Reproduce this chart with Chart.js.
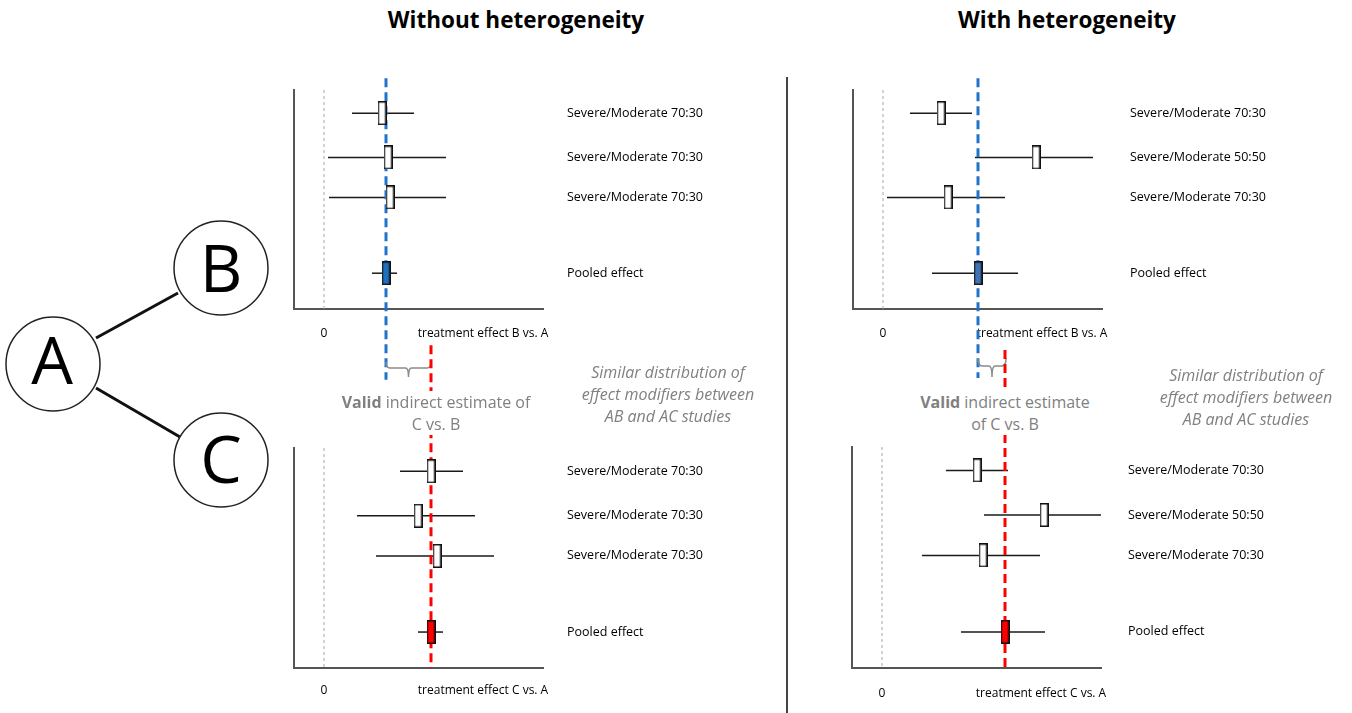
<!DOCTYPE html>
<html>
<head>
<meta charset="utf-8">
<script src="https://cdn.jsdelivr.net/npm/chart.js@4.4.1/dist/chart.umd.min.js"></script>
<style>
	body { margin: 0; background: #fff; font-family: 'Open Sans', sans-serif; }
	#page { position: relative; width: 1352px; height: 713px; overflow: hidden; }
	.panel { position: absolute; }
	.title { position: absolute; top: 4px; font-weight: bold; font-size: 22.5px; line-height: 32px; transform: translateX(-50%); white-space: nowrap; color: #000; }
	.note { position: absolute; color: #808080; font-size: 16px; line-height: 22px; text-align: center; white-space: nowrap; }
	.valid { background: #fff; z-index: 5; transform: translateX(-50%); }
	.similar { font-style: italic; }
	#divider { position: absolute; left: 786px; top: 77px; width: 2px; height: 636px; background: #444; }
	#clipRight { position: absolute; left: 1100px; top: 364px; width: 238px; height: 70px; overflow: hidden; }
</style>
</head>
<body>
<div id="page">
	<svg style="position:absolute;left:0;top:0" width="280" height="713">
		<line x1="96" y1="338" x2="178" y2="293" stroke="#111" stroke-width="3"/>
		<line x1="96" y1="388" x2="180" y2="437" stroke="#111" stroke-width="3"/>
		<circle cx="53" cy="364" r="47" fill="#fff" stroke="#222" stroke-width="1.5"/>
		<circle cx="221" cy="268" r="47" fill="#fff" stroke="#222" stroke-width="1.5"/>
		<circle cx="221" cy="460" r="47" fill="#fff" stroke="#222" stroke-width="1.5"/>
		<text x="52" y="358" font-family="Open Sans" font-size="66" text-anchor="middle" dominant-baseline="central">A</text>
		<text x="221" y="266" font-family="Open Sans" font-size="66" text-anchor="middle" dominant-baseline="central">B</text>
		<text x="221" y="457" font-family="Open Sans" font-size="66" text-anchor="middle" dominant-baseline="central">C</text>
	</svg>

	<div class="title" style="left:516px">Without heterogeneity</div>
	<div class="title" style="left:1067px">With heterogeneity</div>
	<div id="divider"></div>

	<div class="note valid" style="left:436px;top:391px"><b>Valid</b> indirect estimate of<br>C vs. B</div>
	<div class="note similar" style="left:668px;top:361px;transform:translateX(-50%)">Similar distribution of<br>effect modifiers between<br>AB and AC studies</div>
	<div class="note valid" style="left:1005px;top:391px"><b>Valid</b> indirect estimate<br>of C vs. B</div>
	<div id="clipRight">
		<div class="note similar" style="left:146px;top:0;transform:translateX(-50%)">Similar distribution of<br>effect modifiers between<br>AB and AC studies</div>
	</div>
</div>

<script>
// study labels
const labelsHomog = ['Severe/Moderate 70:30', 'Severe/Moderate 70:30', 'Severe/Moderate 70:30', 'Pooled effect'];
const labelsHetero = ['Severe/Moderate 70:30', 'Severe/Moderate 50:50', 'Severe/Moderate 70:30', 'Pooled effect'];

// without heterogeneity, B vs A
const homBA_est = [0.58, 0.64, 0.66, 0.62];
const homBA_lo = [0.28, 0.04, 0.05, 0.48];
const homBA_hi = [0.90, 1.22, 1.22, 0.73];

// without heterogeneity, C vs A
const homCA_est = [1.07, 0.94, 1.13, 1.07];
const homCA_lo = [0.76, 0.33, 0.52, 0.94];
const homCA_hi = [1.39, 1.51, 1.70, 1.19];

// with heterogeneity, B vs A
const hetBA_est = [0.58, 1.53, 0.65, 0.95];
const hetBA_lo = [0.27, 0.92, 0.04, 0.49];
const hetBA_hi = [0.89, 2.10, 1.22, 1.35];

// with heterogeneity, C vs A
const hetCA_est = [0.95, 1.62, 1.01, 1.23];
const hetCA_lo = [0.64, 1.02, 0.40, 0.79];
const hetCA_hi = [1.26, 2.19, 1.58, 1.63];

const xMin = -0.3, xMax = 2.19;
const yMax = 5.2;
const rowPos = [0.55, 1.6, 2.55, 4.35];
const axisLabelAt = 1.59;

const FONT = 'Open Sans';

function boxImage(fill) {
	const c = document.createElement('canvas');
	c.width = 9; c.height = 24;
	const g = c.getContext('2d');
	g.fillStyle = fill;
	g.fillRect(0.75, 0.75, 7.5, 22.5);
	g.strokeStyle = '#111';
	g.lineWidth = 1.5;
	g.strokeRect(0.75, 0.75, 7.5, 22.5);
	return c;
}

// curly brace under the two pooled lines
const bracePlugin = {
	id: 'brace',
	afterDraw(chart, args, opts) {
		if (!opts.to) return;
		const ctx = chart.ctx;
		const x = chart.scales.x;
		const x1 = x.getPixelForValue(opts.from);
		const x2 = x.getPixelForValue(opts.to);
		const b = chart.chartArea.bottom;
		const yT = b + opts.top, yM = b + opts.mid, yB = b + 68;
		const xm = (x1 + x2) / 2;
		ctx.save();
		ctx.strokeStyle = '#8a8a8a';
		ctx.lineWidth = 1.5;
		ctx.beginPath();
		ctx.moveTo(x1, yT);
		ctx.quadraticCurveTo(x1, yM, x1 + 4, yM);
		ctx.lineTo(xm - 3, yM);
		ctx.quadraticCurveTo(xm, yM, xm, yB);
		ctx.quadraticCurveTo(xm, yM, xm + 3, yM);
		ctx.lineTo(x2 - 4, yM);
		ctx.quadraticCurveTo(x2, yM, x2, yT);
		ctx.stroke();
		ctx.restore();
	}
};

function makeForest(cfg) {
	const wrap = document.createElement('div');
	wrap.className = 'panel';
	wrap.style.left = cfg.box[0] + 'px';
	wrap.style.top = cfg.box[1] + 'px';
	const canvas = document.createElement('canvas');
	canvas.width = cfg.box[2];
	canvas.height = cfg.box[3];
	wrap.appendChild(canvas);
	document.getElementById('page').insertBefore(wrap, document.querySelector('.note'));

	const padL = cfg.plot[0] - cfg.box[0];
	const padT = cfg.plot[1] - cfg.box[1];
	const rightW = cfg.box[0] + cfg.box[2] - cfg.plot[2];
	const bottomH = cfg.box[1] + cfg.box[3] - cfg.plot[3];
	const pooled = cfg.est[3];

	const studyBox = boxImage('#fff');
	const pooledBox = boxImage(cfg.pooledFill);

	const datasets = [
		{
			data: cfg.est.map((v, i) => ({ x: v, y: rowPos[i] })),
			showLine: false,
			pointStyle: cfg.est.map((v, i) => (i === 3 ? pooledBox : studyBox)),
			pointRadius: 5,
			order: 0,
		},
		{
			data: [{ x: pooled, y: cfg.lineFrom }, { x: pooled, y: cfg.lineTo }],
			borderColor: cfg.lineColor,
			borderWidth: 3,
			borderDash: [9, 5],
			pointRadius: 0,
			clip: false,
			order: 1,
		},
	];
	cfg.est.forEach((v, i) => {
		datasets.push({
			data: [{ x: cfg.lo[i], y: rowPos[i] }, { x: cfg.hi[i], y: rowPos[i] }],
			borderColor: '#1a1a1a',
			borderWidth: 1.5,
			pointRadius: 0,
			order: 2,
		});
	});
	datasets.push({
		data: [{ x: 0, y: 0 }, { x: 0, y: yMax }],
		borderColor: '#a8a8a8',
		borderWidth: 1,
		borderDash: [3, 3],
		pointRadius: 0,
		order: 3,
	});

	new Chart(canvas, {
		type: 'line',
		data: { datasets },
		options: {
			responsive: false,
			animation: false,
			events: [],
			layout: { padding: { left: padL, top: padT, right: 0, bottom: 0 } },
			plugins: {
				legend: { display: false },
				tooltip: { enabled: false },
				brace: cfg.brace || {},
			},
			scales: {
				x: {
					type: 'linear',
					min: xMin,
					max: xMax,
					afterBuildTicks: (s) => { s.ticks = [{ value: 0 }, { value: axisLabelAt }]; },
					afterFit: (s) => { s.height = bottomH; s.paddingLeft = 0; s.paddingRight = 0; },
					grid: { display: false, drawTicks: false },
					border: { display: true, color: '#555', width: 2 },
					ticks: {
						padding: cfg.tickPad,
						autoSkip: false,
						maxRotation: 0,
						color: '#000',
						font: { family: FONT, size: 12 },
						callback: (v, i) => (i === 0 ? '0' : cfg.axisTitle),
					},
				},
				y: {
					type: 'linear',
					position: 'right',
					reverse: true,
					min: 0,
					max: yMax,
					afterBuildTicks: (s) => { s.ticks = rowPos.map((v) => ({ value: v })); },
					afterFit: (s) => { s.width = rightW; s.paddingTop = 0; s.paddingBottom = 0; },
					grid: { display: false, drawTicks: false },
					border: { display: false },
					ticks: {
						padding: cfg.labelPad,
						autoSkip: false,
						color: '#000',
						font: { family: FONT, size: 12.5 },
						callback: (v, i) => cfg.labels[i],
					},
				},
				yl: {
					type: 'linear',
					position: 'left',
					afterFit: (s) => { s.width = 0; s.paddingTop = 0; s.paddingBottom = 0; },
					grid: { display: false, drawTicks: false },
					ticks: { display: false },
					border: { display: true, color: '#555', width: 2 },
				},
			},
		},
		plugins: [bracePlugin],
	});
}

document.addEventListener('DOMContentLoaded', () => {
	makeForest({
		box: [250, 60, 520, 330], plot: [294, 90, 543, 309],
		est: homBA_est, lo: homBA_lo, hi: homBA_hi, labels: labelsHomog,
		axisTitle: 'treatment effect B vs. A',
		pooledFill: '#1e6fc0', lineColor: '#1f74c9',
		lineFrom: -0.28, lineTo: 6.88, tickPad: 17, labelPad: 24,
		brace: { from: homBA_est[3], to: homCA_est[3], top: 53, mid: 59 },
	});
	makeForest({
		box: [250, 340, 520, 373], plot: [294, 448, 543, 668],
		est: homCA_est, lo: homCA_lo, hi: homCA_hi, labels: labelsHomog,
		axisTitle: 'treatment effect C vs. A',
		pooledFill: '#ff0000', lineColor: '#ff0000',
		lineFrom: -2.43, lineTo: yMax, tickPad: 15, labelPad: 24,
	});
	makeForest({
		box: [810, 60, 542, 330], plot: [853, 90, 1102, 309],
		est: hetBA_est, lo: hetBA_lo, hi: hetBA_hi, labels: labelsHetero,
		axisTitle: 'treatment effect B vs. A',
		pooledFill: '#3f73b5', lineColor: '#1f74c9',
		lineFrom: -0.28, lineTo: 6.84, tickPad: 17, labelPad: 28,
		brace: { from: hetBA_est[3], to: hetCA_est[3], top: 49, mid: 57 },
	});
	makeForest({
		box: [810, 340, 542, 373], plot: [852, 447, 1101, 668],
		est: hetCA_est, lo: hetCA_lo, hi: hetCA_hi, labels: labelsHetero,
		axisTitle: 'treatment effect C vs. A',
		pooledFill: '#ff0000', lineColor: '#ff0000',
		lineFrom: -2.28, lineTo: yMax, tickPad: 18, labelPad: 27,
	});
});
</script>
</body>
</html>
